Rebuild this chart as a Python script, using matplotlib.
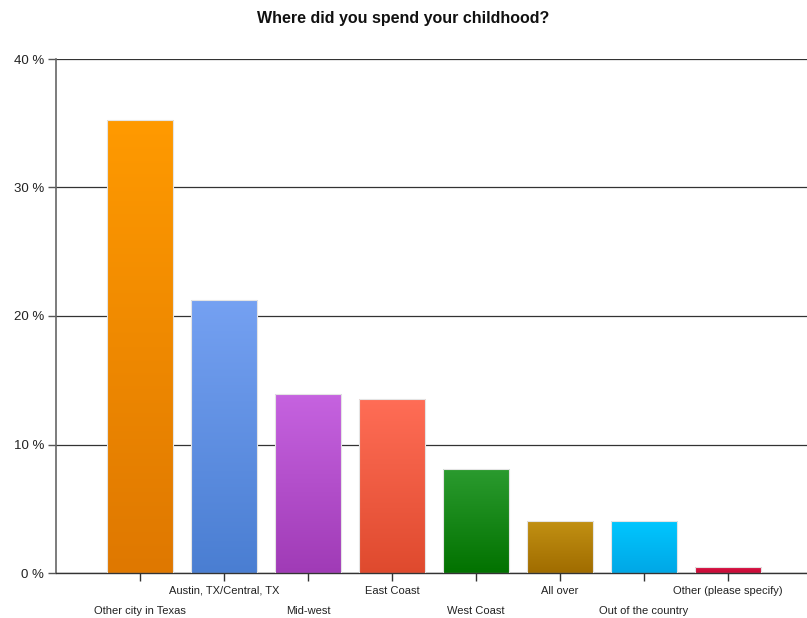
import numpy as np
import matplotlib
matplotlib.use("Agg")
import matplotlib.pyplot as plt
from matplotlib.colors import LinearSegmentedColormap
from matplotlib.ticker import FixedLocator, FuncFormatter

# data (percent of respondents)
categories = ["Other city in Texas", "Austin, TX/Central, TX", "Mid-west", "East Coast",
              "West Coast", "All over", "Out of the country", "Other (please specify)"]
values = [35.25, 21.25, 13.93, 13.54, 8.1, 4.05, 4.05, 0.45]
yticks = [0, 10, 20, 30, 40]

# gradient colours (top, bottom) per bar
top_colors = ["#FF9A00", "#75A1F2", "#C663E0", "#FF6D56", "#2B9B2F", "#C29113", "#00C7FF", "#D81445"]
bottom_colors = ["#DF7800", "#4A7ED2", "#A03BB6", "#DF4A2E", "#027200", "#A06C00", "#00A7E6", "#C80A35"]

plt.rcParams['font.family'] = ['Liberation Sans', 'DejaVu Sans']

fig = plt.figure(figsize=(8.07, 6.18), dpi=100)
ax = fig.add_axes([56 / 807, 45 / 618, 751 / 807, 514 / 618])

x = np.arange(len(categories))
bars = ax.bar(x, values, width=0.786, color="none", edgecolor="#E4E4E4", linewidth=0.8, zorder=3)

# vertical gradient inside each bar
for b, c_top, c_bot in zip(bars, top_colors, bottom_colors):
    cmap = LinearSegmentedColormap.from_list("g", [c_bot, c_top])
    x0, y0 = b.get_x(), b.get_y()
    w, h = b.get_width(), b.get_height()
    grad = np.linspace(0, 1, 256).reshape(-1, 1)
    im = ax.imshow(grad, cmap=cmap, origin="lower", aspect="auto",
                   extent=[x0, x0 + w, y0, y0 + h], zorder=2, interpolation="bilinear")
    im.set_clip_path(b)

ax.set_xlim(-1.0, 7.94)
ax.set_ylim(0, 40)

# grid
ax.set_yticks(yticks)
ax.yaxis.set_major_formatter(FuncFormatter(lambda v, p: "%d %%" % v))
ax.grid(axis="y", color="#333333", linewidth=0.9, zorder=1)
ax.set_axisbelow(True)

# staggered category labels: odd ones on the upper row, even ones lower
ax.xaxis.set_major_locator(FixedLocator(x[1::2]))
ax.xaxis.set_minor_locator(FixedLocator(x[0::2]))
ax.set_xticklabels(categories[1::2])
ax.set_xticklabels(categories[0::2], minor=True)
ax.tick_params(axis="x", which="major", length=5.5, width=1, color="#333333",
               pad=3.5, labelsize=8, labelcolor="#222222")
ax.tick_params(axis="x", which="minor", length=5.5, width=1, color="#333333",
               pad=18, labelsize=8, labelcolor="#222222")
ax.tick_params(axis="y", length=6, width=1, color="#555555", pad=2.5,
               labelsize=9.5, labelcolor="#222222")

for side in ["top", "right"]:
    ax.spines[side].set_visible(False)
ax.spines["left"].set_color("#666666")
ax.spines["left"].set_linewidth(1.2)
ax.spines["bottom"].set_color("#333333")
ax.spines["bottom"].set_linewidth(1.0)

fig.suptitle("Where did you spend your childhood?", x=0.5, y=1 - 19 / 618, va="center",
             fontsize=11.5, fontweight="bold", color="#111111")

fig.savefig("out.png", dpi=100)
